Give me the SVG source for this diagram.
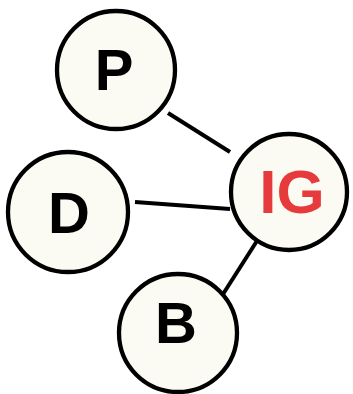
<svg xmlns="http://www.w3.org/2000/svg" width="353" height="394" viewBox="0 0 353 394">
<style>
.node circle{fill:#fcfbf3;stroke:#000;stroke-width:4.3}
.node text{font-family:"Liberation Sans",Arial,sans-serif;font-weight:bold;font-size:58px;text-anchor:middle;fill:#000}
.node text.red{fill:#e63a3c;font-size:62px}
.edges line{stroke:#000;stroke-width:4;stroke-linecap:butt}
</style>
<rect width="353" height="394" fill="#fff"/>
<g class="edges">
<line x1="168" y1="113" x2="230" y2="152"/>
<line x1="135" y1="202" x2="230" y2="209"/>
<line x1="262" y1="233" x2="218" y2="302"/>
</g>
<g id="P" class="node"><circle cx="116" cy="70" r="59"/><text x="114" y="90">P</text></g>
<g id="D" class="node"><circle cx="68" cy="212" r="60"/><text x="69" y="233">D</text></g>
<g id="IG" class="node"><circle cx="289" cy="192" r="58"/><text class="red" x="292" y="213">IG</text></g>
<g id="B" class="node"><circle cx="178" cy="333" r="59"/><text x="176" y="343">B</text></g>
</svg>
